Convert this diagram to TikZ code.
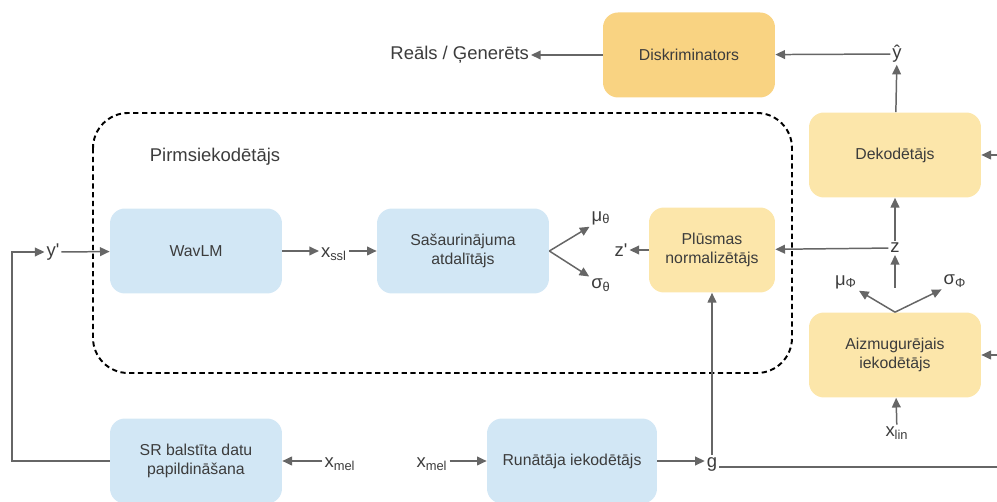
\documentclass[tikz,border=0pt]{standalone}
\usepackage{fontspec}
\setmainfont{Liberation Sans}
\usetikzlibrary{arrows.meta}
\definecolor{bluefill}{RGB}{210,231,245}
\definecolor{yellowfill}{RGB}{252,230,170}
\definecolor{orangefill}{RGB}{249,211,130}
\definecolor{linegray}{RGB}{102,102,102}
\definecolor{textgray}{RGB}{60,60,60}
\begin{document}
\begin{tikzpicture}[x=0.02cm,y=-0.02cm,
box/.style={rounded corners=8.5pt,minimum width=3.44cm,minimum height=1.7cm,align=center,text=textgray,font=\fontsize{9}{11}\selectfont},
bluebox/.style={box,fill=bluefill},
yellowbox/.style={box,fill=yellowfill},
orangebox/.style={box,fill=orangefill},
lbl/.style={inner sep=1pt,text=textgray,font=\fontsize{10.5}{12}\selectfont},
line/.style={draw=linegray,line width=0.85pt},
arr/.style={line,-{Triangle[length=5.5pt,width=5pt]}},
prior/.style={draw=black,line width=1.1pt,dash pattern=on 3pt off 2pt,rounded corners=20pt}]
\useasboundingbox (0,0) rectangle (997,502);
\draw[prior] (93,113) rectangle (792,373);
\node[lbl] (priorlbl) at (215,157) {Pirmsiekodētājs};
\node[orangebox] (disc) at (689,55) {Diskriminators};
\node[lbl,anchor=east] (real) at (531,55) {Reāls / Ģenerēts};
\node[lbl] (yhat) at (897,54) {ŷ};
\node[yellowbox] (dec) at (895,155) {Dekodētājs};
\node[lbl] (z) at (895,248) {z};
\node[yellowbox,minimum width=2.52cm] (flow) at (712,250) {Plūsmas\\normalizētājs};
\node[lbl] (zp) at (621,250) {z\textquotesingle};
\node[bluebox] (bottle) at (463,251) {Sašaurinājuma\\atdalītājs};
\node[lbl] (mut) at (601,218) {μ\textsubscript{θ}};
\node[lbl] (sigt) at (601,285) {σ\textsubscript{θ}};
\node[bluebox] (wavlm) at (196,251) {WavLM};
\node[lbl] (xssl) at (334,254) {x\textsubscript{ssl}};
\node[lbl] (yp) at (53,252) {y\textquotesingle};
\node[bluebox] (sr) at (196,461) {SR balstīta datu\\papildināšana};
\node[lbl] (xmelsr) at (340,464) {x\textsubscript{mel}};
\node[lbl] (xmelspk) at (432,464) {x\textsubscript{mel}};
\node[bluebox,minimum width=3.4cm] (spk) at (572,461) {Runātāja iekodētājs};
\node[lbl] (g) at (712,464) {g};
\node[yellowbox] (post) at (895,355) {Aizmugurējais\\iekodētājs};
\node[lbl] (xlin) at (897,433) {x\textsubscript{lin}};
\node[lbl] (muphi) at (846,282) {μ\textsubscript{Φ}};
\node[lbl] (sigphi) at (955,281) {σ\textsubscript{Φ}};
\coordinate (decin) at (997,155);
\coordinate (postin) at (997,355);
\coordinate (gout) at (997,467);
\coordinate (bend) at (12,252);
\coordinate (zin) at (895,288);
\draw[arr] (disc) -- (real);
\draw[arr] (yhat) -- (disc);
\draw[arr] (dec) -- (yhat);
\draw[arr] (decin) -- (dec);
\draw[arr] (z) -- (dec);
\draw[arr] (z) -- (flow);
\draw[arr] (flow) -- (zp);
\draw[arr] (bottle.east) -- (mut.south west);
\draw[arr] (bottle.east) -- (sigt.north west);
\draw[arr] (wavlm) -- (xssl.west |- wavlm);
\draw[arr] (xssl.east |- bottle) -- (bottle);
\draw[arr] (yp) -- (wavlm);
\draw[arr] (sr.west) -| (bend) -- (yp);
\draw[arr] (xmelsr.west |- sr) -- (sr);
\draw[arr] (xmelspk.east |- spk) -- (spk);
\draw[arr] (spk) -- (g.west |- spk);
\draw[arr] (g) -- (flow);
\draw[line] (g.east |- gout) -- (gout);
\draw[arr] (postin) -- (post);
\draw[arr] (xlin) -- (post);
\draw[arr] (post.north) -- (muphi.south east);
\draw[arr] (post.north) -- (sigphi.south west);
\draw[arr] (zin) -- (z);
\end{tikzpicture}
\end{document}
